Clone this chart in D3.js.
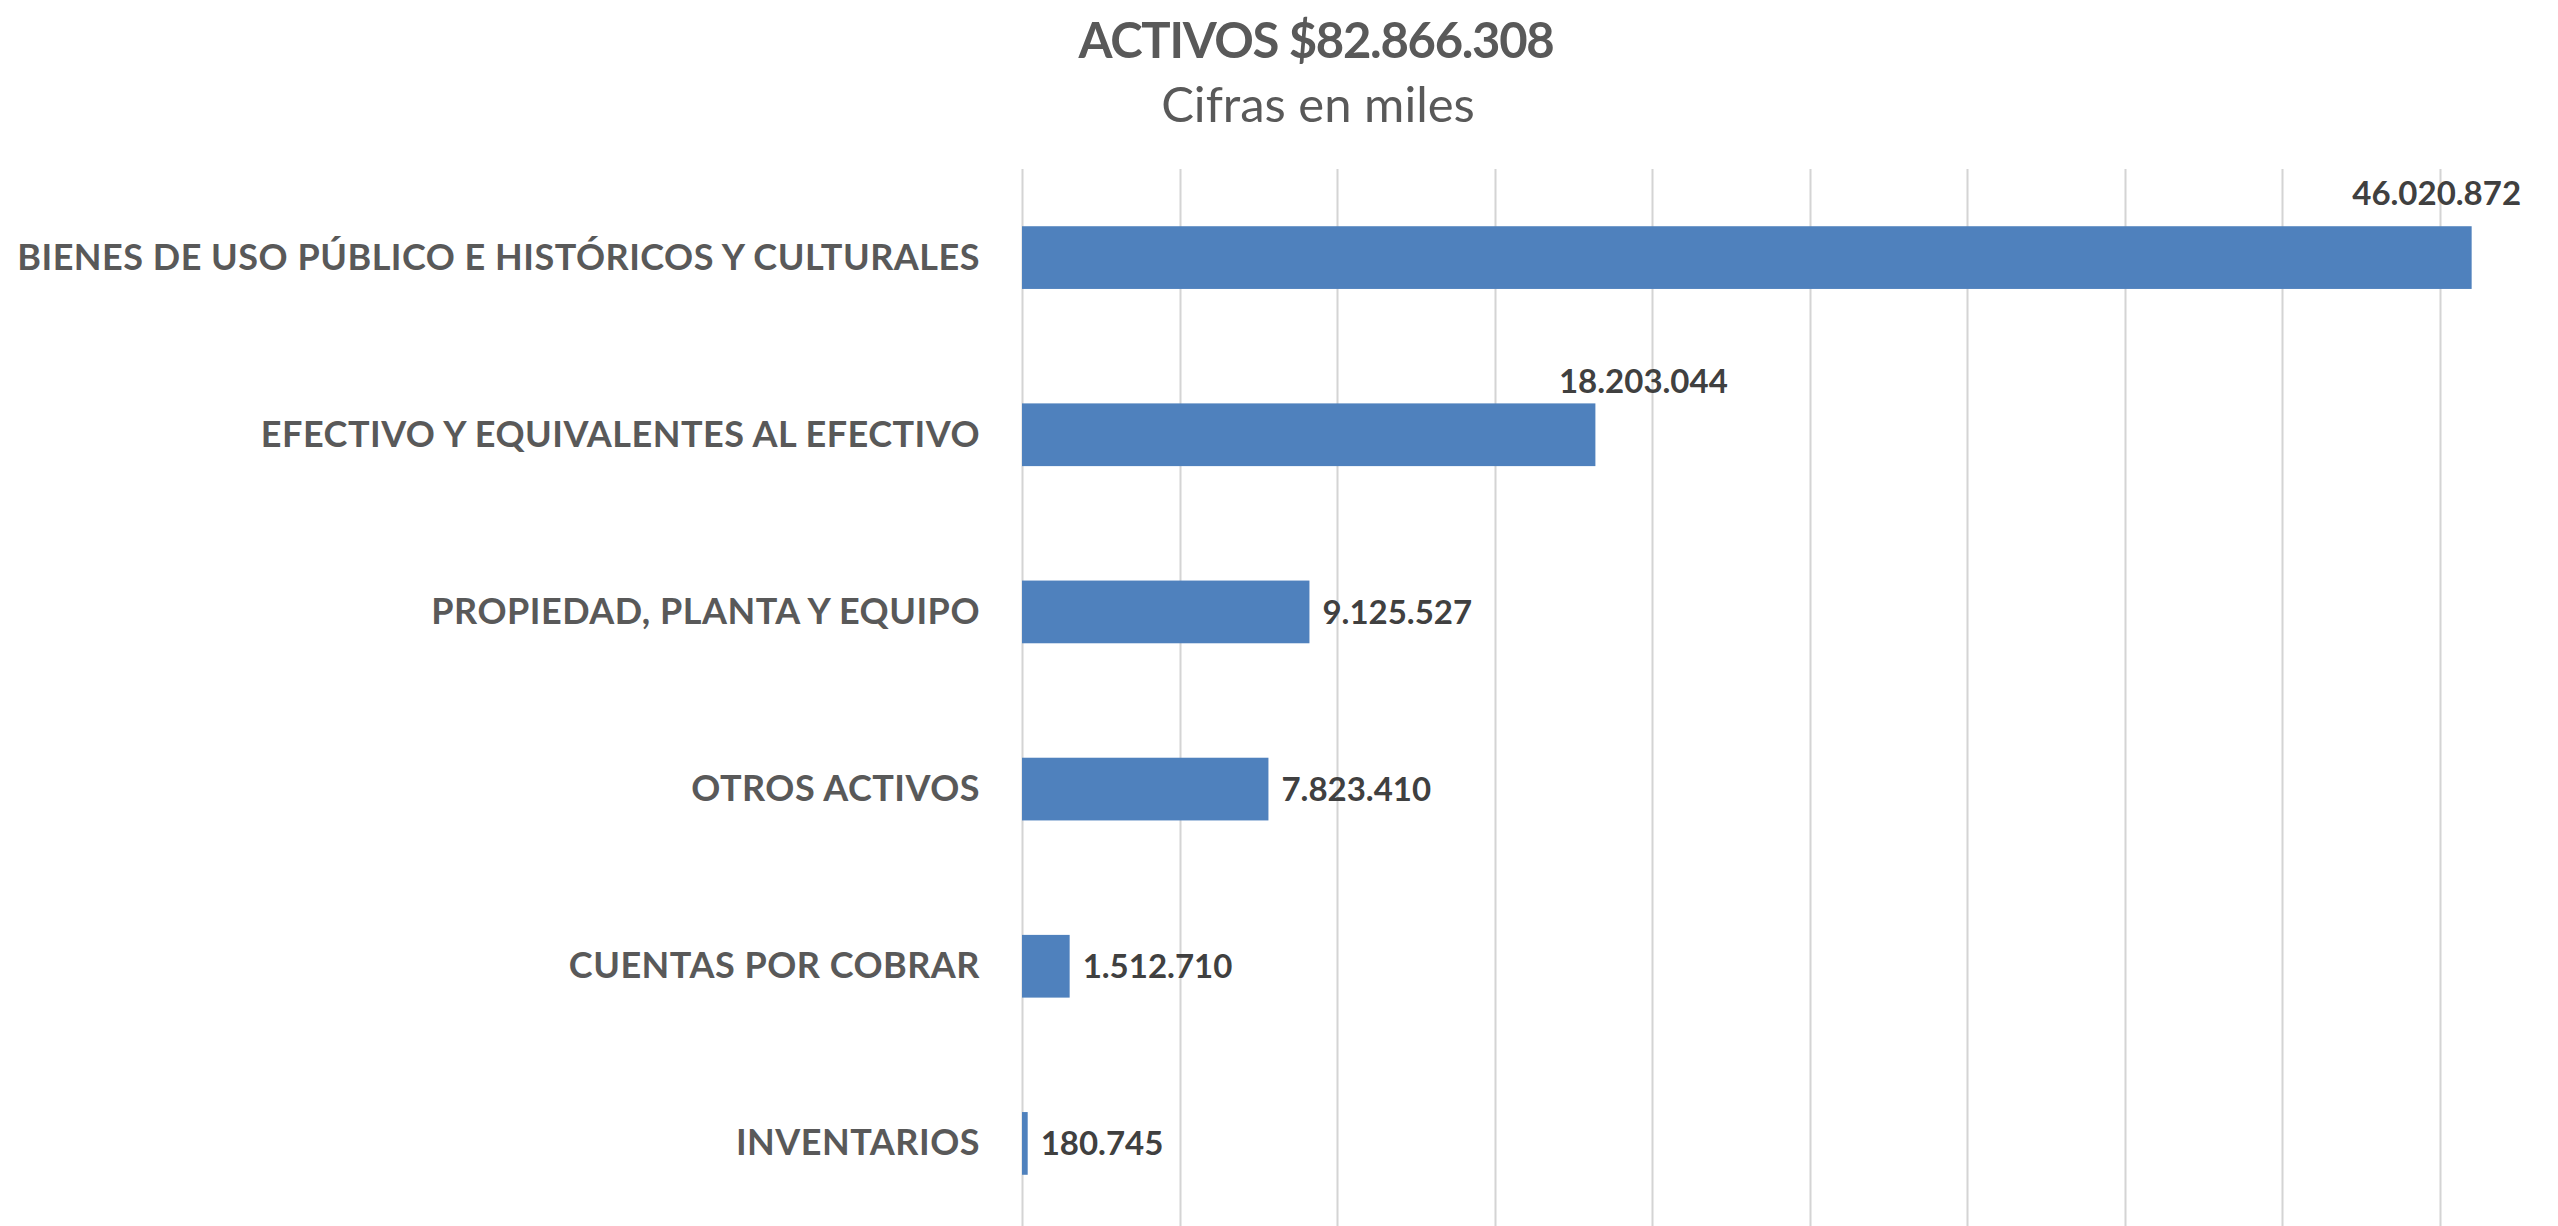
<html>
    <head>
        <meta charset="utf-8">
        <title>Activos</title>
        <style>
            body { margin: 0; background: #ffffff; }
            text { font-family: Lato, "Open Sans", sans-serif; }
        </style>
    </head>
    <body>
        <svg></svg>

        <script src="https://d3js.org/d3.v7.min.js"></script>
        <script>
            // data
            var categories = [
                "BIENES DE USO PÚBLICO E HISTÓRICOS Y CULTURALES",
                "EFECTIVO Y EQUIVALENTES AL EFECTIVO",
                "PROPIEDAD, PLANTA Y EQUIPO",
                "OTROS ACTIVOS",
                "CUENTAS POR COBRAR",
                "INVENTARIOS"
            ];
            var values = [46020872, 18203044, 9125527, 7823410, 1512710, 180745];
            var gridTicks = [0, 5e6, 10e6, 15e6, 20e6, 25e6, 30e6, 35e6, 40e6, 45e6, 50e6];
            var titleText = "ACTIVOS $82.866.308";
            var subtitleText = "Cifras en miles";

            // the two biggest labels sit above their bars (moved by hand in the original)
            var labelMoved = {0: {dx: -35, dy: -53}, 1: {dx: 48, dy: -42}};

            // Canvas width and height
            var width = 2558;
            var height = 1226;

            var svg = d3.select("svg")
                .attr("width", width)
                .attr("height", height);

            // plot area (runs a bit past the right and bottom edges, as in the picture)
            var plot = {left: 1022, top: 169, right: 2597, bottom: 1232};

            var x = d3.scaleLinear()
                .domain([0, 50e6])
                .range([plot.left, plot.right]);

            var y = d3.scaleBand()
                .domain(categories)
                .range([plot.top, plot.bottom])
                .paddingInner(0.646)
                .paddingOuter(0.323);

            // vertical gridlines
            svg.append("g")
                .selectAll("line")
                .data(gridTicks)
                .enter()
                .append("line")
                .attr("x1", function(d) { return Math.round(x(d)) + 0.5; })
                .attr("x2", function(d) { return Math.round(x(d)) + 0.5; })
                .attr("y1", plot.top)
                .attr("y2", plot.bottom)
                .attr("stroke", "#d4d4d4")
                .attr("stroke-width", 2);

            // bars
            svg.append("g")
                .selectAll("rect")
                .data(values)
                .enter()
                .append("rect")
                .attr("x", x(0))
                .attr("y", function(d, i) { return y(categories[i]); })
                .attr("width", function(d) { return x(d) - x(0); })
                .attr("height", y.bandwidth())
                .attr("fill", "#4f81bd");

            // category labels
            var yAxis = svg.append("g")
                .attr("transform", "translate(" + (plot.left - 42) + ",0)")
                .call(d3.axisLeft(y).tickSize(0).tickPadding(0));
            yAxis.select(".domain").remove();
            yAxis.selectAll("text")
                .attr("dy", null)
                .attr("y", 12)
                .style("font-family", "Lato")
                .style("font-size", "36px")
                .style("letter-spacing", "0.5px")
                .style("font-weight", "bold")
                .attr("fill", "#595959");

            // value labels
            var fmt = function(v) { return d3.format(",")(v).replace(/,/g, "."); };

            svg.append("g")
                .selectAll("text")
                .data(values)
                .enter()
                .append("text")
                .attr("x", function(d, i) {
                    if (labelMoved[i]) return x(d) + labelMoved[i].dx;
                    return x(d) + 13;
                })
                .attr("y", function(d, i) {
                    var c = y(categories[i]) + y.bandwidth() / 2;
                    if (labelMoved[i]) return c + labelMoved[i].dy;
                    return c + 12;
                })
                .attr("text-anchor", function(d, i) { return labelMoved[i] ? "middle" : "start"; })
                .style("font-size", "33px")
                .style("font-weight", "bold")
                .attr("fill", "#404040")
                .text(function(d) { return fmt(d); });

            // title and subtitle
            svg.append("text")
                .attr("x", 1316)
                .attr("y", 58)
                .attr("text-anchor", "middle")
                .style("font-size", "49px")
                .style("letter-spacing", "-1.3px")
                .style("font-weight", "bold")
                .attr("fill", "#595959")
                .text(titleText);

            svg.append("text")
                .attr("x", 1318)
                .attr("y", 122)
                .attr("text-anchor", "middle")
                .style("font-size", "49px")
                .attr("fill", "#595959")
                .text(subtitleText);
        </script>
    </body>
</html>
